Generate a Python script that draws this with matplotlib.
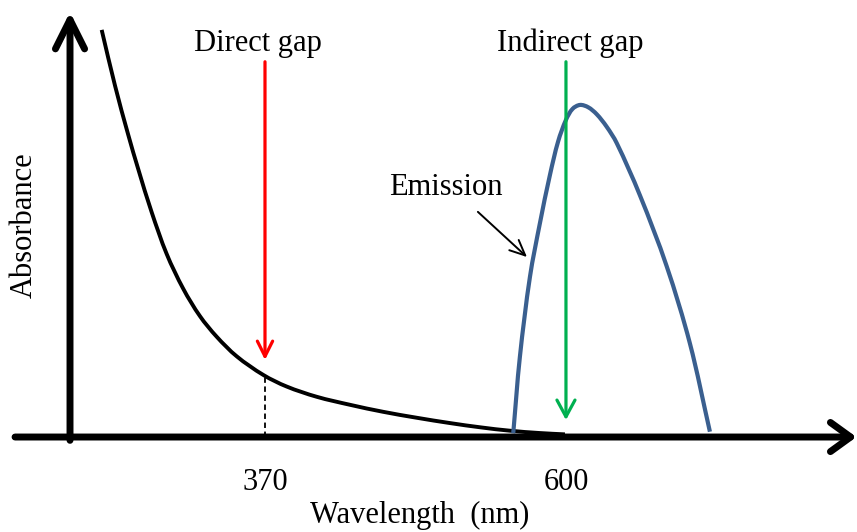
import numpy as np
import matplotlib
matplotlib.use('Agg')
import matplotlib.pyplot as plt
from matplotlib.path import Path
from matplotlib.patches import PathPatch

plt.rcParams['font.family'] = ['Liberation Serif', 'DejaVu Serif']

# absorption edge (nm, a.u.)
abs_wl = [245.2, 255.4, 265.5, 273.2, 283.4, 294.9, 307.6, 320.3, 333.1, 348.4,
          368.7, 386.6, 409.7, 435.0, 460.2, 486.0, 511.4, 535.0, 557.2, 580.0, 599.2]
abs_val = [1.226, 1.058, 0.910, 0.806, 0.677, 0.551, 0.446, 0.364, 0.302, 0.243,
           0.187, 0.152, 0.121, 0.097, 0.076, 0.058, 0.042, 0.029, 0.019, 0.012, 0.008]

# emission band
em_wl = [559.7, 564.8, 572.5, 580.1, 587.8, 594.0, 600.0, 605.0, 610.7, 617.0,
         623.5, 631.0, 638.8, 656.5, 676.9, 694.7, 710.0]
em_val = [0.011, 0.242, 0.483, 0.644, 0.790, 0.890, 0.955, 0.988, 1.000, 0.993,
          0.972, 0.935, 0.885, 0.728, 0.515, 0.282, 0.016]

direct_gap = 370
indirect_gap = 600
tick_labels = ['370', '600']

XLIM = (167.5, 822.4)
YLIM = (-0.286, 1.316)
W, H = 857, 532


def smooth_path(xs, ys):
    # cubic Hermite through the points, parametrised by chord length on screen
    p = np.column_stack([xs, ys]).astype(float)
    scale = np.array([W / (XLIM[1] - XLIM[0]), H / (YLIM[1] - YLIM[0])])
    seg = np.hypot(*((np.diff(p, axis=0) * scale).T))
    t = np.concatenate([[0], np.cumsum(seg)])
    m = np.empty_like(p)
    m[0] = (p[1] - p[0]) / (t[1] - t[0])
    m[-1] = (p[-1] - p[-2]) / (t[-1] - t[-2])
    m[1:-1] = (p[2:] - p[:-2]) / (t[2:] - t[:-2])[:, None]
    verts = [p[0]]
    codes = [Path.MOVETO]
    for i in range(len(p) - 1):
        dt = t[i + 1] - t[i]
        verts += [p[i] + m[i] * dt / 3, p[i + 1] - m[i + 1] * dt / 3, p[i + 1]]
        codes += [Path.CURVE4] * 3
    return Path(verts, codes)


fig = plt.figure(figsize=(W / 100, H / 100), dpi=100)
ax = fig.add_axes([0, 0, 1, 1])
ax.set_xlim(*XLIM)
ax.set_ylim(*YLIM)
ax.axis('off')

# axes with arrow heads
ax.annotate('', xy=(822, 0), xytext=(179, 0),
            arrowprops=dict(arrowstyle='->,head_length=1.45,head_width=1.05',
                            lw=5, color='black', shrinkA=0, shrinkB=0))
ax.annotate('', xy=(221, 1.28), xytext=(221, -0.01),
            arrowprops=dict(arrowstyle='->,head_length=2.1,head_width=1.05',
                            lw=5, color='black', shrinkA=0, shrinkB=0))

ax.add_patch(PathPatch(smooth_path(abs_wl, abs_val), fill=False,
                       lw=2.8, color='black', capstyle='butt'))
ax.add_patch(PathPatch(smooth_path(em_wl, em_val), fill=False,
                       lw=3, color='#3a5f8f', capstyle='butt'))

# gap markers
level = np.interp(direct_gap, abs_wl, abs_val)
ax.plot([direct_gap, direct_gap], [0, level], ls=(0, (3, 2)), lw=1.3, color='black')
ax.annotate('', xy=(direct_gap, 0.232), xytext=(direct_gap, 1.13),
            arrowprops=dict(arrowstyle='->,head_length=1.1,head_width=0.55',
                            lw=2.3, color='#ff0000', shrinkA=0, shrinkB=0))
ax.annotate('', xy=(indirect_gap, 0.051), xytext=(indirect_gap, 1.13),
            arrowprops=dict(arrowstyle='->,head_length=1.2,head_width=0.65',
                            lw=2.3, color='#00b050', shrinkA=0, shrinkB=0))

fs = 22
ax.text(364.6, 1.163, 'Direct gap', fontsize=fs, ha='center', va='baseline')
ax.text(603.0, 1.163, 'Indirect gap', fontsize=fs, ha='center', va='baseline')
ax.text(508.3, 0.729, 'Emission', fontsize=fs, ha='center', va='baseline')
ax.annotate('', xy=(570.2, 0.542), xytext=(532.7, 0.678),
            arrowprops=dict(arrowstyle='->,head_length=1.1,head_width=0.5',
                            lw=1.4, color='black', shrinkA=0, shrinkB=0))

for x, lab in zip([direct_gap, indirect_gap], tick_labels):
    ax.text(x, -0.16, lab, fontsize=fs, ha='center', va='baseline')
ax.text(488.4, -0.259, 'Wavelength  (nm)', fontsize=fs, ha='center', va='baseline')
ax.text(185.8, 0.639, 'Absorbance', fontsize=fs, rotation=90, ha='center', va='center')

fig.savefig('out.png', dpi=100)
